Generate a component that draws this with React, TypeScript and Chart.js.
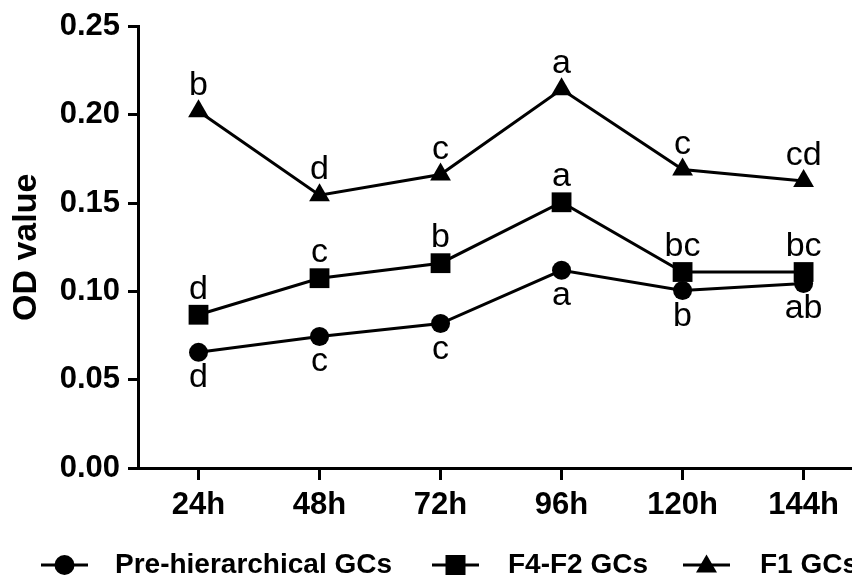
import React, { useEffect, useRef } from "react";
import { Chart, registerables } from "chart.js";

Chart.register(...registerables);

const categories = ["24h", "48h", "72h", "96h", "120h", "144h"];
const yTicks = [0, 0.05, 0.1, 0.15, 0.2, 0.25];

const preValues = [0.0655, 0.0745, 0.0818, 0.112, 0.1005, 0.1045];
const f4f2Values = [0.0868, 0.1075, 0.116, 0.1505, 0.111, 0.111];
const f1Values = [0.202, 0.1545, 0.1662, 0.2145, 0.169, 0.1625];

const preLetters = ["d", "c", "c", "a", "b", "ab"];
const f4f2Letters = ["d", "c", "b", "a", "bc", "bc"];
const f1Letters = ["b", "d", "c", "a", "c", "cd"];

const seriesNames = ["Pre-hierarchical GCs", "F4-F2 GCs", "F1 GCs"];

const FONT = "'Liberation Sans', Arial, Helvetica, sans-serif";

function drawMarker(ctx: CanvasRenderingContext2D, style: string, x: number, y: number, r: number) {
  ctx.beginPath();
  if (style === "circle") {
    ctx.arc(x, y, r, 0, Math.PI * 2);
  } else if (style === "rect") {
    ctx.rect(x - r, y - r, 2 * r, 2 * r);
  } else {
    ctx.moveTo(x, y - r * 1.05);
    ctx.lineTo(x + r * 1.05, y + r * 0.75);
    ctx.lineTo(x - r * 1.05, y + r * 0.75);
    ctx.closePath();
  }
  ctx.fill();
}

const letterPlugin = {
  id: "letterPlugin",
  afterDatasetsDraw(chart: any) {
    const ctx = chart.ctx as CanvasRenderingContext2D;
    ctx.save();
    ctx.font = `34px ${FONT}`;
    ctx.fillStyle = "#000";
    ctx.textAlign = "center";
    ctx.textBaseline = "alphabetic";
    chart.data.datasets.forEach((ds: any, i: number) => {
      const meta = chart.getDatasetMeta(i);
      meta.data.forEach((pt: any, j: number) => {
        const txt = ds.letters[j];
        const y = ds.letterPos === "below" ? pt.y + 35 : pt.y - 16;
        ctx.fillText(txt, pt.x, y);
      });
    });
    ctx.restore();
  },
};

const legendSegStart = [41, 432, 683];
const legendTextX = [115, 508, 760];
const legendSegLen = 47;
const legendY = 565;

const legendPlugin = {
  id: "customLegend",
  afterDraw(chart: any) {
    const ctx = chart.ctx as CanvasRenderingContext2D;
    ctx.save();
    chart.data.datasets.forEach((ds: any, i: number) => {
      const x0 = legendSegStart[i];
      ctx.strokeStyle = "#000";
      ctx.lineWidth = 3;
      ctx.beginPath();
      ctx.moveTo(x0, legendY);
      ctx.lineTo(x0 + legendSegLen, legendY);
      ctx.stroke();
      ctx.fillStyle = "#000";
      drawMarker(ctx, ds.pointStyle, x0 + legendSegLen / 2, legendY, 10);
      ctx.font = `bold 28px ${FONT}`;
      ctx.textAlign = "left";
      ctx.textBaseline = "middle";
      ctx.fillText(ds.label, legendTextX[i], legendY);
    });
    ctx.restore();
  },
};

export default function App() {
  const canvasRef = useRef<HTMLCanvasElement | null>(null);

  useEffect(() => {
    document.body.style.margin = "0";
    const canvas = canvasRef.current;
    if (!canvas) return;
    Chart.defaults.font.family = FONT;
    Chart.defaults.color = "#000";

    const mk = (vals: number[]) => vals.map((v, i) => ({ x: i + 1, y: v }));

    const common = {
      borderColor: "#000",
      backgroundColor: "#000",
      pointBackgroundColor: "#000",
      pointBorderColor: "#000",
      pointBorderWidth: 0,
      borderWidth: 3,
      tension: 0,
      fill: false,
      clip: false as any,
    };

    const chart = new Chart(canvas, {
      type: "line",
      data: {
        datasets: [
          { ...common, label: seriesNames[0], data: mk(preValues), pointStyle: "circle", pointRadius: 9.5, letters: preLetters, letterPos: "below" } as any,
          { ...common, label: seriesNames[1], data: mk(f4f2Values), pointStyle: "rect", pointRadius: 14, letters: f4f2Letters, letterPos: "above" } as any,
          { ...common, label: seriesNames[2], data: mk(f1Values), pointStyle: "triangle", pointRadius: 12, letters: f1Letters, letterPos: "above" } as any,
        ],
      },
      options: {
        animation: false,
        responsive: true,
        maintainAspectRatio: false,
        layout: { autoPadding: false, padding: { top: 24, right: 0, bottom: 50, left: 0 } },
        plugins: {
          legend: { display: false },
          tooltip: { enabled: false },
        },
        elements: { point: { hoverRadius: 0 } },
        scales: {
          x: {
            type: "linear",
            min: 0.5,
            max: 6.4,
            afterBuildTicks: (scale: any) => {
              scale.ticks = categories.map((_, i) => ({ value: i + 1 }));
            },
            afterFit: (scale: any) => {
              scale.height = 59;
              scale.paddingRight = 0;
              scale.paddingLeft = 0;
            },
            ticks: {
              autoSkip: false,
              maxRotation: 0,
              padding: 7,
              color: "#000",
              font: { family: FONT, size: 31, weight: "bold" },
              callback: (v: any) => categories[Math.round(Number(v)) - 1] ?? "",
            },
            grid: {
              display: true,
              drawOnChartArea: false,
              drawTicks: true,
              tickLength: 12,
              color: "#000",
              lineWidth: 3,
            },
            border: { display: true, color: "#000", width: 3 },
          },
          y: {
            type: "linear",
            min: 0,
            max: 0.25,
            afterBuildTicks: (scale: any) => {
              scale.ticks = yTicks.map((v) => ({ value: v }));
            },
            afterFit: (scale: any) => {
              scale.width = 138;
            },
            ticks: {
              padding: 8,
              color: "#000",
              font: { family: FONT, size: 31, weight: "bold" },
              callback: (v: any) => Number(v).toFixed(2),
            },
            grid: {
              display: true,
              drawOnChartArea: false,
              drawTicks: true,
              tickLength: 10,
              color: "#000",
              lineWidth: 3,
            },
            border: { display: true, color: "#000", width: 3 },
            title: {
              display: true,
              text: "OD value",
              color: "#000",
              font: { family: FONT, size: 34, weight: "bold" },
              padding: { top: 6, bottom: 0 },
            },
          },
        },
      },
      plugins: [letterPlugin, legendPlugin],
    });

    return () => chart.destroy();
  }, []);

  return (
    <div style={{ width: 852, height: 577, position: "relative" }}>
      <canvas ref={canvasRef} />
    </div>
  );
}
